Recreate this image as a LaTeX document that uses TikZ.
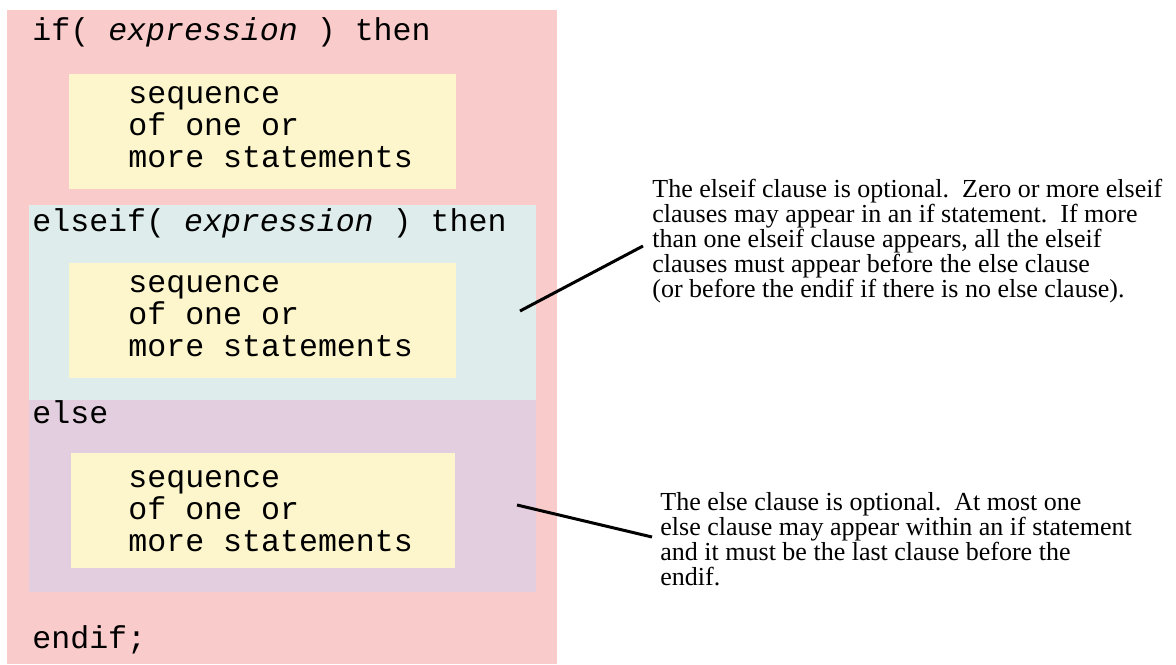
\documentclass[tikz,border=0pt]{standalone}
\usepackage{fontspec}
\usepackage{tikz}
\newfontfamily\codefont{Liberation Mono}
\newfontfamily\notefont{Liberation Serif}
\definecolor{ifcolor}{RGB}{249, 203, 203}
\definecolor{elseifcolor}{RGB}{222, 236, 236}
\definecolor{elsecolor}{RGB}{226, 206, 222}
\definecolor{stmtcolor}{RGB}{253, 246, 204}

\begin{document}
\begin{tikzpicture}[
    x=0.5pt, y=-0.5pt,
    block/.style={fill=#1, inner sep=0pt, anchor=north west, minimum width=253.5pt},
    stmts/.style={fill=stmtcolor, inner sep=0pt, anchor=north west, minimum width=193.5pt, minimum height=57.5pt},
    code/.style={font=\codefont\fontsize{15.8pt}{16pt}\selectfont, anchor=base west, inner sep=0pt, align=left},
    note/.style={font=\notefont\fontsize{13pt}{12.5pt}\selectfont, anchor=base west, inner sep=0pt, align=left},
    pointer/.style={line width=1.5pt}
]
    \useasboundingbox (0,0) rectangle (1176,664);

    % if block
    \node[fill=ifcolor, inner sep=0pt, anchor=north west, minimum width=275pt, minimum height=327pt] (ifblock) at (7,10) {};
    \node[code] (iflabel) at (32,40) {if( \textit{expression} ) then};
    \node[stmts] (ifstmts) at (69,74) {};
    \node[code] (iftext) at (128,167) {sequence\\of one or\\more statements};

    % elseif block
    \node[block=elseifcolor, minimum height=97.5pt] (elseifblock) at (29,205) {};
    \node[code] (elseiflabel) at (32,231) {elseif( \textit{expression} ) then};
    \node[stmts] (elseifstmts) at (69,263) {};
    \node[code] (elseiftext) at (128,356) {sequence\\of one or\\more statements};

    % else block
    \node[block=elsecolor, minimum height=96pt] (elseblock) at (29,400) {};
    \node[code] (elselabel) at (32,423) {else};
    \node[stmts, minimum width=192pt] (elsestmts) at (71,453) {};
    \node[code] (elsetext) at (128,551) {sequence\\of one or\\more statements};

    \node[code] (endiflabel) at (32,648) {endif;};

    % Notes (base = last line)
    \node[note] (elseifnote) at (652,297) {The elseif clause is optional.\ \ Zero or more elseif\\clauses may appear in an if statement.\ \ If more\\than one elseif clause appears, all the elseif\\clauses must appear before the else clause\\(or before the endif if there is no else clause).};
    \node[note] (elsenote) at (660,585) {The else clause is optional.\ \ At most one\\else clause may appear within an if statement\\and it must be the last clause before the\\endif.};

    % Pointers
    \coordinate (elseiftip) at (520,311);
    \coordinate (elseifend) at (643,246);
    \coordinate (elsetip) at (517,505);
    \coordinate (elseend) at (652,537);
    \draw[pointer] (elseiftip) -- (elseifend);
    \draw[pointer] (elsetip) -- (elseend);
\end{tikzpicture}
\end{document}
